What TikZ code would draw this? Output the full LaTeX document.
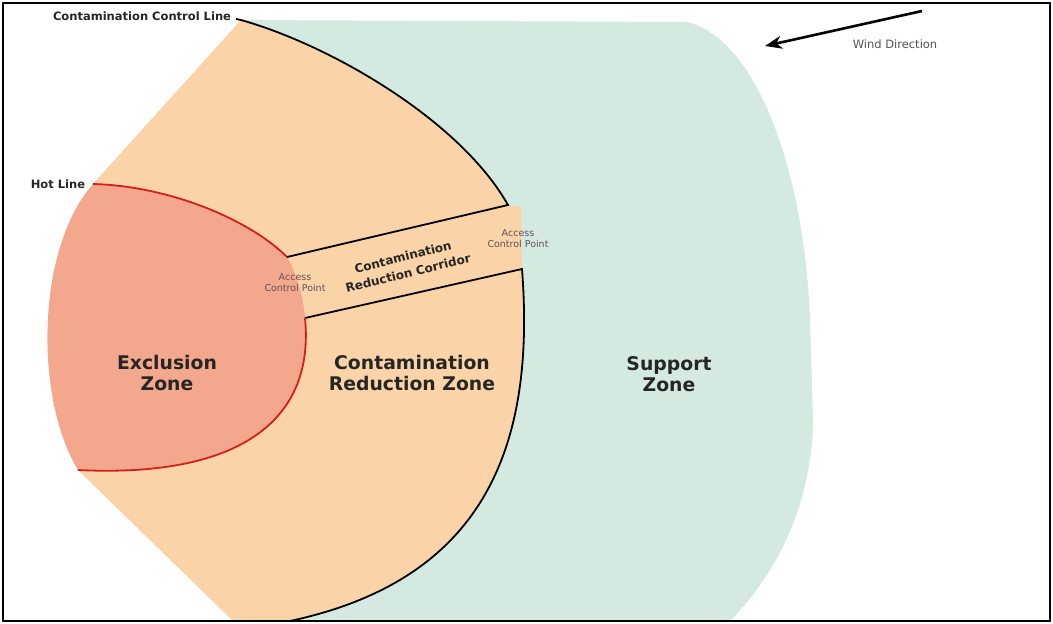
\documentclass[tikz,border=0pt]{standalone}
\usepackage{fontspec}
\setmainfont{DejaVu Sans}
\usetikzlibrary{arrows.meta}
\definecolor{supportgreen}{RGB}{212,234,224}
\definecolor{crzorange}{RGB}{250,212,168}
\definecolor{exred}{RGB}{243,168,142}
\definecolor{hotred}{RGB}{214,30,30}
\definecolor{labelink}{RGB}{38,38,38}
\definecolor{acpink}{RGB}{100,80,88}
\definecolor{windink}{RGB}{85,85,85}
\begin{document}
\begin{tikzpicture}[x=1pt,y=-1pt,
  ctrlline/.style={line width=1.8pt,black,line join=miter},
  hotline/.style={line width=1.8pt,hotred},
  zonelabel/.style={font=\fontsize{18.8}{21}\selectfont\bfseries,text=labelink,align=center,inner sep=0pt},
  linelabel/.style={font=\fontsize{11.5}{13}\selectfont\bfseries,text=labelink,inner sep=0pt},
  acplabel/.style={font=\fontsize{9.5}{11}\selectfont,text=acpink,align=center,inner sep=0pt},
  corrlabel/.style={font=\fontsize{12}{14}\selectfont\bfseries,text=labelink,inner sep=0pt,rotate=14},
  windlabel/.style={font=\fontsize{11.5}{13}\selectfont,text=windink,inner sep=0pt},
  windarrow/.style={line width=2.6pt,black,-{Stealth[length=17pt,width=13pt]}}]
\useasboundingbox (0,0) rectangle (1053,624);
\fill[white] (0,0) rectangle (1053,624);

% key points
\coordinate (cclstart) at (236,19);
\coordinate (arcstart) at (241,20);
\coordinate (arcend) at (508,205);
\coordinate (corrUL) at (287,257);
\coordinate (corrLL) at (305,318);
\coordinate (corrLR) at (522,269);
\coordinate (crzbot) at (290,621);
\coordinate (hotstart) at (93,184);
\coordinate (hotend) at (78,470);
\coordinate (windtail) at (922,11);
\coordinate (windtip) at (765,46);

% support zone
\fill[supportgreen] (241,20) -- (687,22) .. controls (760,40) and (805,180) .. (810,320)
  -- (813,420) .. controls (812,500) and (780,570) .. (730,621) -- (crzbot) -- (300,300) -- cycle;

% contamination reduction zone
\fill[crzorange] (arcstart) .. controls (330,45) and (460,120) .. (arcend)
  -- (521,207) -- (corrLR)
  .. controls (536,450) and (482,580) .. (crzbot)
  -- (233,621) -- (hotend) -- (hotstart) -- cycle;

% exclusion zone
\fill[exred] (hotstart) .. controls (170,186) and (250,220) .. (corrUL)
  .. controls (297,275) and (303,295) .. (corrLL)
  .. controls (315,420) and (240,478) .. (hotend)
  .. controls (35,400) and (35,250) .. (hotstart) -- cycle;

% contamination control line and corridor
\draw[ctrlline] (cclstart) -- (arcstart) .. controls (330,45) and (460,120) .. (arcend) -- (corrUL);
\draw[ctrlline] (corrLL) -- (corrLR) .. controls (536,450) and (482,580) .. (crzbot);

% hot line
\draw[hotline] (hotstart) .. controls (170,186) and (250,220) .. (corrUL);
\draw[hotline] (corrLL) .. controls (315,420) and (240,478) .. (hotend);

% wind
\draw[windarrow] (windtail) -- (windtip);
\node[windlabel] (wind) at (895,44) {Wind Direction};

% labels
\node[linelabel] (ccl) at (142,16) {Contamination Control Line};
\node[linelabel] (hot) at (58,184) {Hot Line};
\node[acplabel] (acpleft) at (295,283) {Access\\Control Point};
\node[acplabel] (acpright) at (518,239) {Access\\Control Point};
\node[corrlabel] (corrA) at (403,257) {Contamination};
\node[corrlabel] (corrB) at (408,273) {Reduction Corridor};
\node[zonelabel] (ez) at (167,373) {Exclusion\\Zone};
\node[zonelabel] (crz) at (412,373) {Contamination\\Reduction Zone};
\node[zonelabel] (sz) at (669,374) {Support\\Zone};

% frame
\draw[line width=2pt,black] (3,3) rectangle (1050,621);
\end{tikzpicture}
\end{document}
